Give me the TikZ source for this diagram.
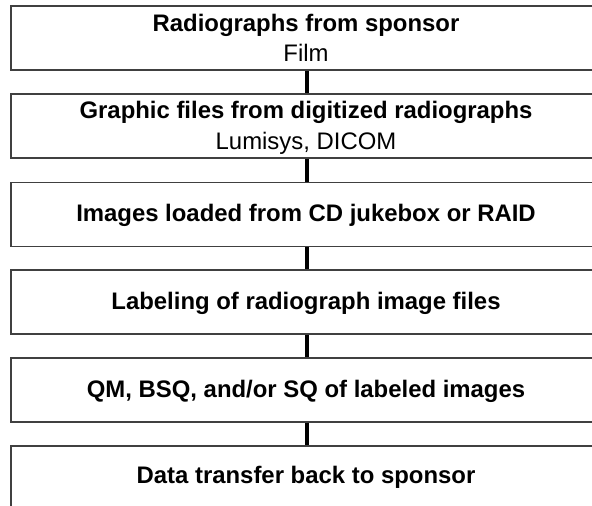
\documentclass[tikz,border=0pt]{standalone}
\usepackage{fontspec}
\setmainfont{Liberation Sans}
\usetikzlibrary{calc}

\tikzset{
  stagebox/.style={draw=black!75, line width=1.5pt, fill=white, rectangle,
    anchor=north west, minimum width=592pt, minimum height=64pt, inner sep=0pt},
  headtext/.style={anchor=base, inner sep=0pt,
    font=\fontsize{23.9pt}{28pt}\selectfont\bfseries},
  subtext/.style={anchor=base, inner sep=0pt,
    font=\fontsize{23.9pt}{28pt}\selectfont},
  link/.style={draw=black, line width=3.5pt}
}

\begin{document}
\begin{tikzpicture}[x=1pt, y=-1pt]
  \useasboundingbox (0,0) rectangle (592,506);
  \clip (0,0) rectangle (592,506);

  % stage boxes, running off the right and bottom edges
  \node[stagebox] (b1) at (10,5)   {};
  \node[stagebox] (b2) at (10,93)  {};
  \node[stagebox] (b3) at (10,181.5) {};
  \node[stagebox] (b4) at (10,269) {};
  \node[stagebox] (b5) at (10,357) {};
  \node[stagebox] (b6) at (10,445) {};

  % connecting bars
  \draw[link] (b1.south) -- (b2.north);
  \draw[link] (b2.south) -- (b3.north);
  \draw[link] (b3.south) -- (b4.north);
  \draw[link] (b4.south) -- (b5.north);
  \draw[link] (b5.south) -- (b6.north);

  % stage titles and details
  \node[headtext] (t1) at (306,31.5)  {Radiographs from sponsor};
  \node[subtext]  (s1) at (306,61)    {Film};
  \node[headtext] (t2) at (306,118.5) {Graphic files from digitized radiographs};
  \node[subtext]  (s2) at (306,149)   {Lumisys, DICOM};
  \node[headtext] (t3) at (306,221.5) {Images loaded from CD jukebox or RAID};
  \node[headtext] (t4) at (306,309.5) {Labeling of radiograph image files};
  \node[headtext] (t5) at (306,397)   {QM, BSQ, and/or SQ of labeled images};
  \node[headtext] (t6) at (306,483.5) {Data transfer back to sponsor};
\end{tikzpicture}
\end{document}
